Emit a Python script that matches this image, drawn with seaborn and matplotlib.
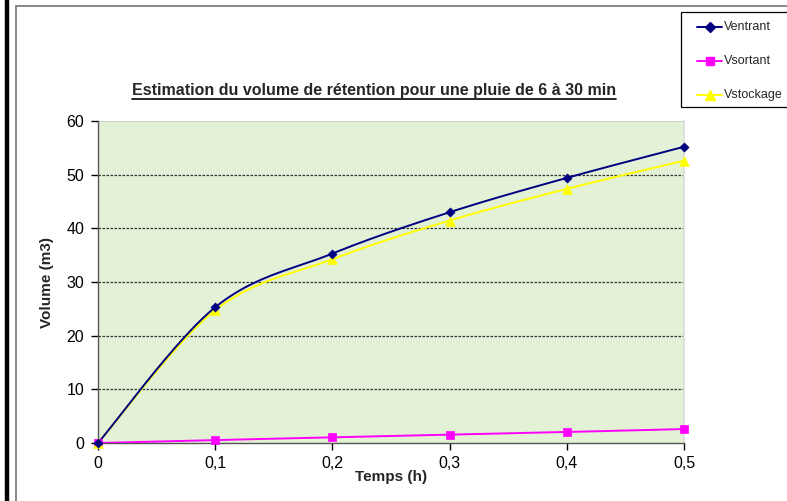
import numpy as np
import pandas as pd
import matplotlib
matplotlib.use("Agg")
import matplotlib.pyplot as plt
from matplotlib.lines import Line2D
from matplotlib.patches import Rectangle
import seaborn as sns

# Data
temps = [0.0, 0.1, 0.2, 0.3, 0.4, 0.5]
v_entrant = [0.0, 25.3, 35.3, 43.0, 49.4, 55.2]
v_sortant = [0.0, 0.55, 1.05, 1.55, 2.05, 2.6]
v_stockage = [0.0, 24.75, 34.25, 41.45, 47.35, 52.6]
x_ticklabels = ["0", "0,1", "0,2", "0,3", "0,4", "0,5"]
y_ticks = [0, 10, 20, 30, 40, 50, 60]

series_names = ["Ventrant", "Vsortant", "Vstockage"]
series_vals = [v_entrant, v_sortant, v_stockage]
colors = ["#000080", "#FF00FF", "#FFFF00"]
markers = ["D", "s", "^"]
msizes = [4.6, 5.8, 7.0]

sns.set_theme(style="white")
plt.rcParams["font.family"] = ["Liberation Sans", "DejaVu Sans"]

W, H = 787, 501
fig = plt.figure(figsize=(W / 100, H / 100), dpi=100)
ax = fig.add_axes([98 / W, (H - 443) / H, (684 - 98) / W, (443 - 121) / H])


def smooth(xs, ys, n=40):
    """Catmull-Rom style Bezier smoothing through the points."""
    P = np.column_stack([xs, ys]).astype(float)
    ext = np.vstack([P[0], P, P[-1]])
    out = []
    t = np.linspace(0, 1, n)[:, None]
    for i in range(len(P) - 1):
        p0, p3 = ext[i + 1], ext[i + 2]
        b1 = p0 + (ext[i + 2] - ext[i]) / 6.0
        b2 = p3 - (ext[i + 3] - ext[i + 1]) / 6.0
        seg = ((1 - t) ** 3) * p0 + 3 * ((1 - t) ** 2) * t * b1 + 3 * (1 - t) * t ** 2 * b2 + t ** 3 * p3
        out.append(seg if i == 0 else seg[1:])
    out = np.vstack(out)
    return out[:, 0], out[:, 1]


ax.set_facecolor("#E3F1D6")

# draw order: Vsortant, Vstockage underneath Ventrant
for idx in [1, 2, 0]:
    name, vals, c, m, ms = series_names[idx], series_vals[idx], colors[idx], markers[idx], msizes[idx]
    sx, sy = smooth(temps, vals)
    dfl = pd.DataFrame({"t": sx, "v": sy})
    sns.lineplot(data=dfl, x="t", y="v", ax=ax, color=c, lw=1.4, sort=False,
                 estimator=None, zorder=3 + (idx == 0))
    dfp = pd.DataFrame({"t": temps, "v": vals})
    sns.scatterplot(data=dfp, x="t", y="v", ax=ax, color=c, marker=m, s=ms ** 2,
                    edgecolor=c, linewidth=0.5, zorder=5 + (idx == 0), clip_on=False)

ax.set_xlim(0, 0.5)
ax.set_ylim(0, 60)
ax.set_xticks(temps)
ax.set_xticklabels(x_ticklabels)
ax.set_yticks(y_ticks)
ax.tick_params(axis="both", labelsize=11.5, colors="black", length=5, width=1,
               direction="out", bottom=True, left=True)
ax.tick_params(axis="y", pad=5)
ax.tick_params(axis="x", pad=4)
for yv in y_ticks[1:-1]:
    ax.axhline(yv, color="#333333", lw=0.9, ls=(0, (2, 1.2)), zorder=1)
ax.axhline(60, color="#C8C8C8", lw=1.2, zorder=1)

ax.spines["top"].set_visible(False)
ax.spines["right"].set_color("#DDDDDD")
ax.spines["left"].set_color("#555555")
ax.spines["bottom"].set_color("#555555")
ax.spines["left"].set_linewidth(1.0)
ax.spines["bottom"].set_linewidth(1.0)

ax.set_xlabel("Temps (h)", fontsize=11, fontweight="bold", labelpad=0)
ax.set_ylabel("Volume (m3)", fontsize=11, fontweight="bold", labelpad=9)

# title with underline
title = fig.text(374 / W, 1 - 91 / H, "Estimation du volume de rétention pour une pluie de 6 à 30 min",
                 ha="center", va="center", fontsize=11.5, fontweight="bold")
fig.canvas.draw()
bb = title.get_window_extent(renderer=fig.canvas.get_renderer())
uy = (bb.y0 - 0.5) / H
fig.add_artist(Line2D([bb.x0 / W, bb.x1 / W], [uy, uy], color="black", lw=1.2,
                      transform=fig.transFigure))

# chart border and left edge bar
fig.add_artist(Rectangle((15.5 / W, -0.05), 1.2, 1 - 6 / H + 0.05, transform=fig.transFigure,
                         fill=False, edgecolor="#7F7F7F", lw=1.3))
fig.add_artist(Line2D([6.5 / W, 6.5 / W], [0, 1], color="black", lw=3.2, transform=fig.transFigure))

# legend box, running past the right edge
fig.add_artist(Rectangle((680.5 / W, 1 - 107 / H), 0.2, (107 - 12) / H, transform=fig.transFigure,
                         facecolor="white", edgecolor="black", lw=0.9, zorder=10))
leg_y = [27, 61, 95]
for name, c, m, ms, yy in zip(series_names, colors, markers, msizes, leg_y):
    fy = 1 - yy / H
    fig.add_artist(Line2D([697 / W, 722 / W], [fy, fy], color=c, lw=1.4,
                          transform=fig.transFigure, zorder=11))
    fig.add_artist(Line2D([709.5 / W], [fy], color=c, marker=m, markersize=ms,
                          markeredgecolor=c, lw=0, transform=fig.transFigure, zorder=12))
    fig.text(724 / W, fy, name, ha="left", va="center", fontsize=9, zorder=12)

fig.savefig("out.png", dpi=100)
